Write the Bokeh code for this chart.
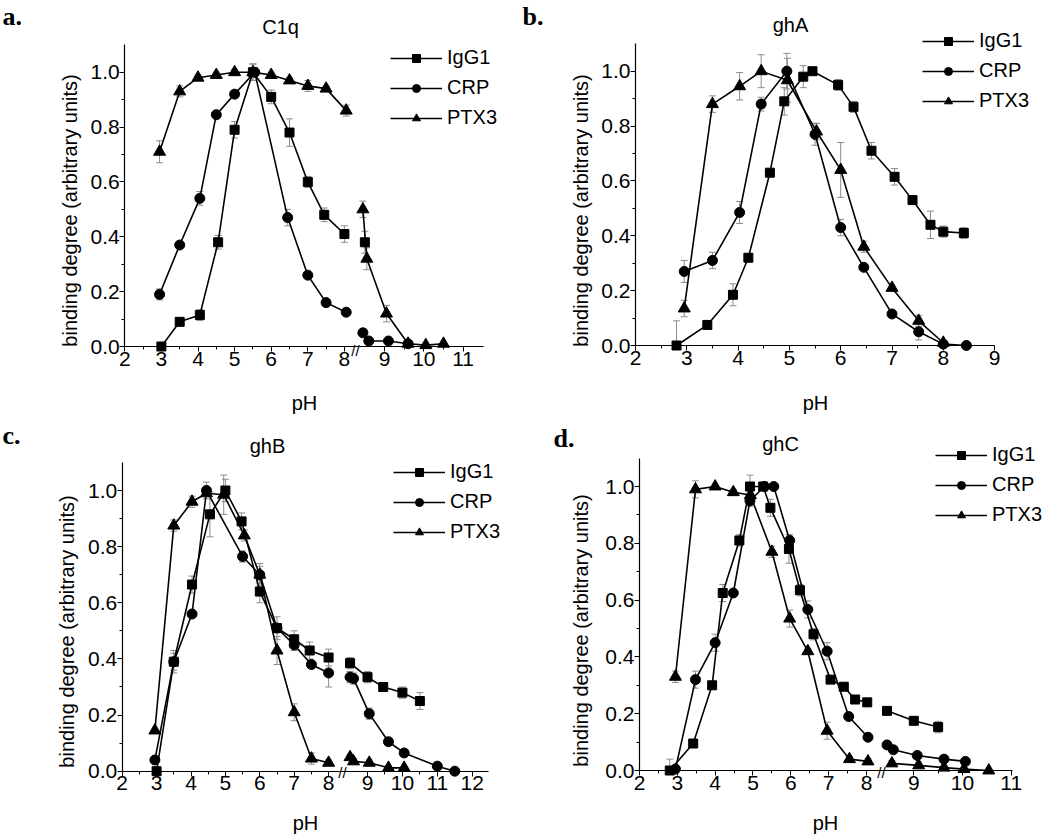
import math
from bokeh.plotting import figure
from bokeh.models import (ColumnDataSource, Whisker, TeeHead, Label, Legend, LegendItem,
                          FixedTicker, Range1d, PrintfTickFormatter)
from bokeh.layouts import column, row
from bokeh.embed import file_html
from bokeh.resources import INLINE

# ---------------- data ----------------
# Panel a: C1q
a_igg_ph = [3.0, 3.5, 4.05, 4.55, 5.0, 5.5, 6.0, 6.5, 7.0, 7.45, 8.0, 8.5]
a_igg_y = [0.0, 0.09, 0.115, 0.38, 0.79, 1.0, 0.91, 0.78, 0.60, 0.48, 0.41, 0.38]
a_igg_e = [0.0, 0.01, 0.02, 0.025, 0.03, 0.03, 0.025, 0.05, 0.02, 0.025, 0.03, 0.04]
a_crp_ph = [2.95, 3.5, 4.05, 4.5, 5.0, 5.55, 6.45, 7.0, 7.5, 8.05, 8.45, 8.6, 9.1, 9.6]
a_crp_y = [0.19, 0.37, 0.54, 0.845, 0.92, 1.0, 0.47, 0.26, 0.16, 0.125, 0.05, 0.02, 0.02, 0.01]
a_crp_e = [0.02, 0.0, 0.025, 0.0, 0.01, 0.01, 0.03, 0.0, 0.0, 0.0, 0.0, 0.0, 0.0, 0.0]
a_ptx_ph = [2.95, 3.5, 4.0, 4.5, 5.0, 5.5, 6.0, 6.5, 7.0, 7.5, 8.05, 8.45, 8.55, 9.05, 9.6, 10.05, 10.5]
a_ptx_y = [0.71, 0.93, 0.98, 0.99, 1.0, 1.0, 0.99, 0.97, 0.95, 0.94, 0.86, 0.50, 0.32, 0.12, 0.01, 0.005, 0.01]
a_ptx_e = [0.04, 0.02, 0.01, 0.01, 0.01, 0.03, 0.01, 0.01, 0.02, 0.01, 0.02, 0.03, 0.04, 0.03, 0.0, 0.0, 0.0]

# Panel b: ghA
b_igg_ph = [2.8, 3.4, 3.9, 4.2, 4.62, 4.9, 5.27, 5.45, 5.95, 6.25, 6.6, 7.05, 7.4, 7.75, 8.0, 8.4]
b_igg_y = [0.0, 0.075, 0.185, 0.32, 0.63, 0.89, 0.98, 1.0, 0.95, 0.87, 0.71, 0.615, 0.53, 0.44, 0.415, 0.41]
b_igg_e = [0.09, 0.0, 0.04, 0.0, 0.0, 0.05, 0.04, 0.0, 0.02, 0.02, 0.03, 0.03, 0.015, 0.05, 0.02, 0.02]
b_crp_ph = [2.95, 3.5, 4.03, 4.45, 4.95, 5.5, 6.0, 6.45, 7.0, 7.52, 8.0, 8.45]
b_crp_y = [0.27, 0.31, 0.485, 0.88, 1.0, 0.77, 0.43, 0.285, 0.115, 0.05, 0.005, 0.0]
b_crp_e = [0.04, 0.03, 0.04, 0.025, 0.065, 0.04, 0.03, 0.0, 0.0, 0.03, 0.0, 0.0]
b_ptx_ph = [2.95, 3.5, 4.03, 4.45, 4.96, 5.53, 6.0, 6.45, 7.0, 7.52, 8.0]
b_ptx_y = [0.135, 0.88, 0.945, 1.0, 0.967, 0.78, 0.64, 0.36, 0.21, 0.09, 0.01]
b_ptx_e = [0.03, 0.03, 0.05, 0.06, 0.08, 0.03, 0.1, 0.02, 0.01, 0.02, 0.0]

# Panel c: ghB
c_igg_ph = [3.0, 3.5, 4.03, 4.55, 5.0, 5.47, 6.0, 6.5, 7.0, 7.45, 8.0, 8.5, 9.0, 9.45, 10.0, 10.5]
c_igg_y = [0.0, 0.39, 0.665, 0.915, 1.0, 0.89, 0.64, 0.51, 0.47, 0.43, 0.405, 0.385, 0.335, 0.30, 0.28, 0.25]
c_igg_e = [0.0, 0.04, 0.03, 0.08, 0.04, 0.03, 0.04, 0.04, 0.03, 0.03, 0.03, 0.02, 0.02, 0.015, 0.02, 0.03]
c_crp_ph = [2.95, 3.5, 4.03, 4.45, 5.5, 6.0, 6.5, 7.0, 7.5, 8.0, 8.5, 8.6, 9.05, 9.6, 10.05, 11.0, 11.5]
c_crp_y = [0.04, 0.39, 0.56, 1.0, 0.765, 0.70, 0.51, 0.45, 0.38, 0.35, 0.335, 0.33, 0.205, 0.105, 0.065, 0.018, 0.0]
c_crp_e = [0.0, 0.03, 0.0, 0.03, 0.02, 0.04, 0.0, 0.02, 0.0, 0.05, 0.02, 0.02, 0.02, 0.0, 0.0, 0.0, 0.0]
c_ptx_ph = [2.95, 3.5, 4.03, 4.45, 4.95, 5.55, 6.0, 6.5, 7.0, 7.5, 8.0, 8.5, 8.6, 9.05, 9.6, 10.05]
c_ptx_y = [0.145, 0.875, 0.96, 0.99, 0.985, 0.84, 0.70, 0.43, 0.21, 0.045, 0.03, 0.05, 0.035, 0.03, 0.012, 0.012]
c_ptx_e = [0.0, 0.02, 0.02, 0.0, 0.07, 0.02, 0.03, 0.05, 0.03, 0.02, 0.01, 0.01, 0.01, 0.01, 0.005, 0.005]

# Panel d: ghC
d_igg_ph = [2.8, 3.42, 3.92, 4.2, 4.64, 4.92, 5.27, 5.46, 5.95, 6.24, 6.6, 7.05, 7.4, 7.7, 8.02, 8.45, 9.0, 9.5]
d_igg_y = [0.0, 0.095, 0.30, 0.625, 0.81, 1.0, 1.0, 0.925, 0.78, 0.635, 0.48, 0.32, 0.295, 0.25, 0.24, 0.21, 0.175, 0.153]
d_igg_e = [0.04, 0.0, 0.0, 0.03, 0.02, 0.04, 0.0, 0.03, 0.05, 0.02, 0.02, 0.01, 0.01, 0.01, 0.01, 0.01, 0.01, 0.02]
d_crp_ph = [2.95, 3.48, 4.0, 4.48, 4.92, 5.3, 5.55, 5.97, 6.45, 6.96, 7.53, 8.04, 8.45, 8.58, 9.07, 9.62, 10.06]
d_crp_y = [0.005, 0.32, 0.45, 0.625, 0.95, 1.0, 1.0, 0.81, 0.567, 0.42, 0.19, 0.117, 0.09, 0.073, 0.053, 0.04, 0.032]
d_crp_e = [0.0, 0.03, 0.03, 0.0, 0.02, 0.0, 0.0, 0.02, 0.03, 0.03, 0.0, 0.0, 0.0, 0.0, 0.01, 0.01, 0.01]
d_ptx_ph = [2.95, 3.48, 4.0, 4.48, 4.93, 5.5, 5.97, 6.45, 6.96, 7.55, 8.04, 8.55, 9.1, 9.62, 10.03, 10.54]
d_ptx_y = [0.33, 0.99, 1.0, 0.98, 0.97, 0.77, 0.535, 0.42, 0.14, 0.04, 0.032, 0.025, 0.018, 0.01, 0.005, 0.0]
d_ptx_e = [0.02, 0.03, 0.0, 0.01, 0.02, 0.02, 0.03, 0.01, 0.03, 0.01, 0.01, 0.01, 0.01, 0.005, 0.005, 0.0]

series_names = ["IgG1", "CRP", "PTX3"]
panel_titles = ["C1q", "ghA", "ghB", "ghC"]
panel_letters = ["a.", "b.", "c.", "d."]
y_label = "binding degree (arbitrary units)"
x_label = "pH"

# ---------------- styling / layout ----------------
SANS = "Liberation Sans"
SERIF = "Liberation Serif"
MARKERS = [("square", 9, 12), ("circle", 10, 13), ("triangle", 12, 15)]
ERR_COLOR = "#8c8c8c"
TICK_FS = "21px"


def to_disp(ph, brk):
    """Broken x axis: pH values after the break use their own offset/scale."""
    if brk is None or ph < brk["at"]:
        return ph
    return brk["x9"] + (ph - 9.0) * brk["r"]


def build(cfg, data, letter, title):
    brk = cfg["brk"]
    fx0, fy0, fw, fh = cfg["fig"]
    ox, oy, sx, sy = cfg["origin"]

    def P(X, Y):  # page pixel -> panel data coordinates
        return 2 + (X - ox) / sx, (oy - Y) / sy

    x0, y1 = P(fx0, fy0)
    x1, y0 = P(fx0 + fw, fy0 + fh)
    p = figure(width=fw, height=fh, x_range=Range1d(x0, x1), y_range=Range1d(y0, y1),
               output_backend="svg", toolbar_location=None,
               min_border_left=0, min_border_right=0, min_border_top=0, min_border_bottom=0)
    p.outline_line_color = None
    p.grid.visible = False

    # axes drawn at fixed locations inside the frame, bounded like the reference
    maj = [float(t) for t in cfg["xticks"]]
    maj_d = [to_disp(t, brk) for t in maj]
    min_d = [to_disp(t, brk) for t in cfg["xminor"]]
    p.xaxis.ticker = FixedTicker(ticks=maj_d, minor_ticks=min_d)
    p.xaxis.major_label_overrides = {d: str(int(t)) for d, t in zip(maj_d, maj)}
    p.xaxis.fixed_location = 0
    p.xaxis.bounds = (2, cfg["xend"])
    p.yaxis.ticker = FixedTicker(ticks=[0.0, 0.2, 0.4, 0.6, 0.8, 1.0],
                                 minor_ticks=[0.1, 0.3, 0.5, 0.7, 0.9])
    p.yaxis.formatter = PrintfTickFormatter(format="%.1f")
    p.yaxis.fixed_location = 2
    p.yaxis.bounds = (0, 1.1)
    for ax in (p.xaxis, p.yaxis):
        ax.axis_line_color = "black"
        ax.axis_line_width = 1.2
        ax.major_tick_line_color = "black"
        ax.minor_tick_line_color = "black"
        ax.major_tick_in = 0
        ax.minor_tick_in = 0
        ax.major_tick_out = 5
        ax.minor_tick_out = 3
        ax.major_label_text_font = SANS
        ax.major_label_text_font_size = TICK_FS
        ax.major_label_text_color = "black"
        ax.major_label_standoff = 0

    items = []
    for (name, (ph, ys, es)), (mk, sz, lsz) in zip(zip(series_names, data), MARKERS):
        xd = [to_disp(v, brk) for v in ph]
        # error bars
        eb = [(x, y, e) for x, y, e in zip(xd, ys, es) if e > 0]
        if eb:
            src = ColumnDataSource(dict(base=[b[0] for b in eb],
                                        upper=[b[1] + b[2] for b in eb],
                                        lower=[max(0.0, b[1] - b[2]) for b in eb]))
            w = Whisker(base="base", upper="upper", lower="lower", source=src,
                        line_color=ERR_COLOR, line_width=1, level="underlay",
                        upper_head=TeeHead(size=7, line_color=ERR_COLOR, line_width=1),
                        lower_head=TeeHead(size=7, line_color=ERR_COLOR, line_width=1))
            p.add_layout(w)
        # line segments (split at axis break)
        if brk is None:
            segs = [list(range(len(ph)))]
        else:
            segs = [[i for i, v in enumerate(ph) if v < brk["at"]],
                    [i for i, v in enumerate(ph) if v >= brk["at"]]]
        for s in segs:
            if len(s) > 1:
                p.line([xd[i] for i in s], [ys[i] for i in s], line_color="black", line_width=1.6)
        p.scatter(xd, ys, marker=mk, size=sz, fill_color="black", line_color="black")
        # legend proxies (placed far outside the visible ranges)
        lr = p.line([-100, -99], [-100, -100], line_color="black", line_width=1.6)
        sr = p.scatter([-100], [-100], marker=mk, size=lsz, fill_color="black", line_color="black")
        items.append(LegendItem(label=name, renderers=[lr, sr]))

    lx, lb = cfg["leg"]  # page px of legend glyph left edge, legend bottom
    leg = Legend(items=items, location=(lx - fx0, fy0 + fh - lb), orientation="vertical",
                 glyph_width=52, glyph_height=20, label_height=20, spacing=7,
                 padding=0, margin=0, label_standoff=5,
                 label_text_font=SANS, label_text_font_size="20px", label_text_color="black",
                 border_line_color=None, background_fill_alpha=0)
    p.add_layout(leg)

    # break marks
    if brk is not None:
        bx, by = P(*cfg["mark"])
        p.add_layout(Label(x=bx, y=by, text="//", text_font=SANS,
                           text_font_size="15px", text_align="center",
                           text_baseline="middle", text_color="black"))

    # title, letter, axis labels (positions are text middles)
    tx, ty = P(*cfg["title_pos"])
    p.add_layout(Label(x=tx, y=ty, text=title, text_font=SANS, text_font_size="20px",
                       text_align="center", text_baseline="middle", text_color="black"))
    lx_, ly_ = P(*cfg["letter_pos"])
    p.add_layout(Label(x=lx_, y=ly_, text=letter, text_font=SERIF, text_font_size="26px",
                       text_font_style="bold", text_align="left", text_baseline="middle",
                       text_color="black"))
    yx, yy = P(*cfg["ylab_pos"])
    p.add_layout(Label(x=yx, y=yy, text=y_label, text_font=SANS, text_font_size="20px",
                       text_align="center", text_baseline="middle", angle=math.pi / 2,
                       text_color="black"))
    px_, py_ = P(*cfg["xlab_pos"])
    p.add_layout(Label(x=px_, y=py_, text=x_label, text_font=SANS, text_font_size="20px",
                       text_align="center", text_baseline="middle", text_color="black"))
    return p


# all positions below are page pixels (layout only); the page has no margin
cfgs = [
    dict(fig=(0, 0, 508, 418), origin=(124.3, 346, 36.6, 274.3), xend=11.79,
         brk=dict(at=8.3, x9=9.096, r=1.074), mark=(355, 350),
         xticks=[2, 3, 4, 5, 6, 7, 8, 9, 10, 11],
         xminor=[2.5, 3.5, 4.5, 5.5, 6.5, 7.5, 9.5, 10.5],
         leg=(390, 129), title_pos=(280, 26), letter_pos=(2, 16),
         ylab_pos=(69, 210), xlab_pos=(304, 402)),
    dict(fig=(508, 0, 540, 418), origin=(635, 345, 51.3, 274.3), xend=9.0, brk=None,
         xticks=[2, 3, 4, 5, 6, 7, 8, 9],
         xminor=[2.5, 3.5, 4.5, 5.5, 6.5, 7.5, 8.5],
         leg=(922, 112), title_pos=(790, 24), letter_pos=(522, 16),
         ylab_pos=(580, 210), xlab_pos=(815, 402)),
    dict(fig=(0, 418, 508, 417), origin=(121.7, 770.7, 34.4, 280.7), xend=12.66,
         brk=dict(at=8.3, x9=9.131, r=1.015), mark=(342, 772),
         xticks=[2, 3, 4, 5, 6, 7, 8, 9, 10, 11, 12],
         xminor=[2.5, 3.5, 4.5, 5.5, 6.5, 7.5, 9.5, 10.5, 11.5],
         leg=(393, 543), title_pos=(267, 445), letter_pos=(2, 435),
         ylab_pos=(66, 631), xlab_pos=(305, 822)),
    dict(fig=(508, 418, 540, 417), origin=(639, 770, 37.83, 284), xend=11.85,
         brk=dict(at=8.3, x9=9.251, r=1.287), mark=(881, 772),
         xticks=[2, 3, 4, 5, 6, 7, 8, 9, 10, 11],
         xminor=[2.5, 3.5, 4.5, 5.5, 6.5, 7.5, 9.5, 10.5],
         leg=(935, 526), title_pos=(780, 443), letter_pos=(553, 438),
         ylab_pos=(580, 630), xlab_pos=(825, 822)),
]

datas = [
    [(a_igg_ph, a_igg_y, a_igg_e), (a_crp_ph, a_crp_y, a_crp_e), (a_ptx_ph, a_ptx_y, a_ptx_e)],
    [(b_igg_ph, b_igg_y, b_igg_e), (b_crp_ph, b_crp_y, b_crp_e), (b_ptx_ph, b_ptx_y, b_ptx_e)],
    [(c_igg_ph, c_igg_y, c_igg_e), (c_crp_ph, c_crp_y, c_crp_e), (c_ptx_ph, c_ptx_y, c_ptx_e)],
    [(d_igg_ph, d_igg_y, d_igg_e), (d_crp_ph, d_crp_y, d_crp_e), (d_ptx_ph, d_ptx_y, d_ptx_e)],
]

figs = [build(c, d, l, t) for c, d, l, t in zip(cfgs, datas, panel_letters, panel_titles)]
layout = column(row(figs[0], figs[1]), row(figs[2], figs[3]))

open("out.html", "w").write(file_html(layout, INLINE))
